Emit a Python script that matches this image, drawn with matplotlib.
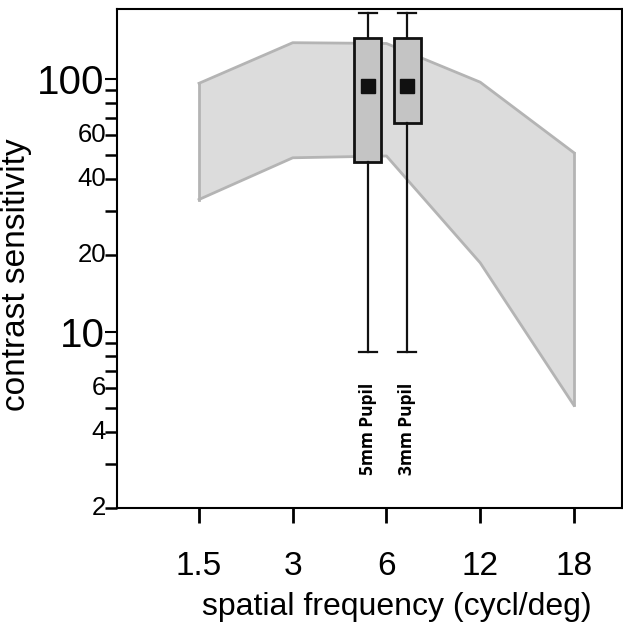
import matplotlib.pyplot as plt
from matplotlib.ticker import FixedLocator, NullFormatter

# spatial frequency categories (evenly spaced on the axis)
freq_labels = ["1.5", "3", "6", "12", "18"]
band_upper = [96, 139, 138, 97, 51]
band_lower = [33.3, 48.7, 49.5, 18.7, 5.1]

# box summary per pupil size
pupil_labels = ["5mm Pupil", "3mm Pupil"]
pupil_pos = [1.80, 2.22]
whisker_lo = [8.3, 8.3]
box_lo = [47, 67]
box_hi = [145, 145]
whisker_hi = [182, 182]
centre_val = [94, 94]

y_major = [10, 100]
y_labelled = [2, 4, 6, 20, 40, 60]
y_minor = [2, 3, 4, 5, 6, 7, 8, 9, 20, 30, 40, 50, 60, 70, 80, 90]

plt.rcParams["font.family"] = ["Liberation Sans", "DejaVu Sans"]

fig = plt.figure(figsize=(6.23, 6.32), dpi=100)
ax = fig.add_axes([0.1878, 0.196, 0.8102, 0.7898])

x = list(range(len(freq_labels)))
ax.fill_between(x, band_lower, band_upper, facecolor="#dcdcdc", edgecolor="none", zorder=1)
ax.plot(x, band_upper, color="#b4b4b4", lw=2, zorder=2)
ax.plot(x, band_lower, color="#b4b4b4", lw=2, zorder=2)
ax.plot([x[0], x[0]], [band_lower[0], band_upper[0]], color="#b4b4b4", lw=2, zorder=2)
ax.plot([x[-1], x[-1]], [band_lower[-1], band_upper[-1]], color="#b4b4b4", lw=2, zorder=2)

stats = []
for i in range(len(pupil_labels)):
    stats.append(dict(whislo=whisker_lo[i], q1=box_lo[i], med=centre_val[i], q3=box_hi[i],
                      whishi=whisker_hi[i], mean=centre_val[i], fliers=[]))
ax.bxp(stats, positions=pupil_pos, widths=0.29, patch_artist=True, showmeans=True,
       boxprops=dict(facecolor="#c4c4c4", edgecolor="#111111", lw=2),
       whiskerprops=dict(color="#111111", lw=1.6),
       capprops=dict(color="#111111", lw=1.6),
       medianprops=dict(lw=0),
       meanprops=dict(marker="s", markersize=9.5, markerfacecolor="#111111", markeredgecolor="#111111"),
       capwidths=0.19, manage_ticks=False, zorder=3)

for i, lab in enumerate(pupil_labels):
    ax.text(pupil_pos[i], 4.1, lab, rotation=90, ha="center", va="center",
            fontsize=12.5, fontweight="bold", family=["Open Sans", "DejaVu Sans"])

ax.set_yscale("log")
ax.set_ylim(2, 189)
ax.set_xlim(-0.875, 4.51)

ax.set_xticks(x)
ax.set_xticklabels(freq_labels, fontsize=24)
ax.yaxis.set_major_locator(FixedLocator(y_major))
ax.yaxis.set_minor_locator(FixedLocator(y_minor))
ax.set_yticklabels(["10", "100"], fontsize=29)
ax.yaxis.set_minor_formatter(NullFormatter())
for v in y_labelled:
    ax.text(-0.99, v, str(v), ha="right", va="center", fontsize=18.5)

ax.tick_params(axis="x", direction="out", length=11, width=2, pad=20)
ax.tick_params(axis="y", which="major", direction="out", length=9, width=1.5, pad=0)
ax.tick_params(axis="y", which="minor", direction="out", length=9, width=1.8)
for s in ax.spines.values():
    s.set_linewidth(1.5)

ax.set_xlabel("spatial frequency (cycl/deg)", fontsize=23)
ax.xaxis.set_label_coords(0.554, -0.168)
ax.set_ylabel("contrast sensitivity", fontsize=24)
ax.yaxis.set_label_coords(-0.168, 0.467)

fig.savefig("out.png", dpi=100)
